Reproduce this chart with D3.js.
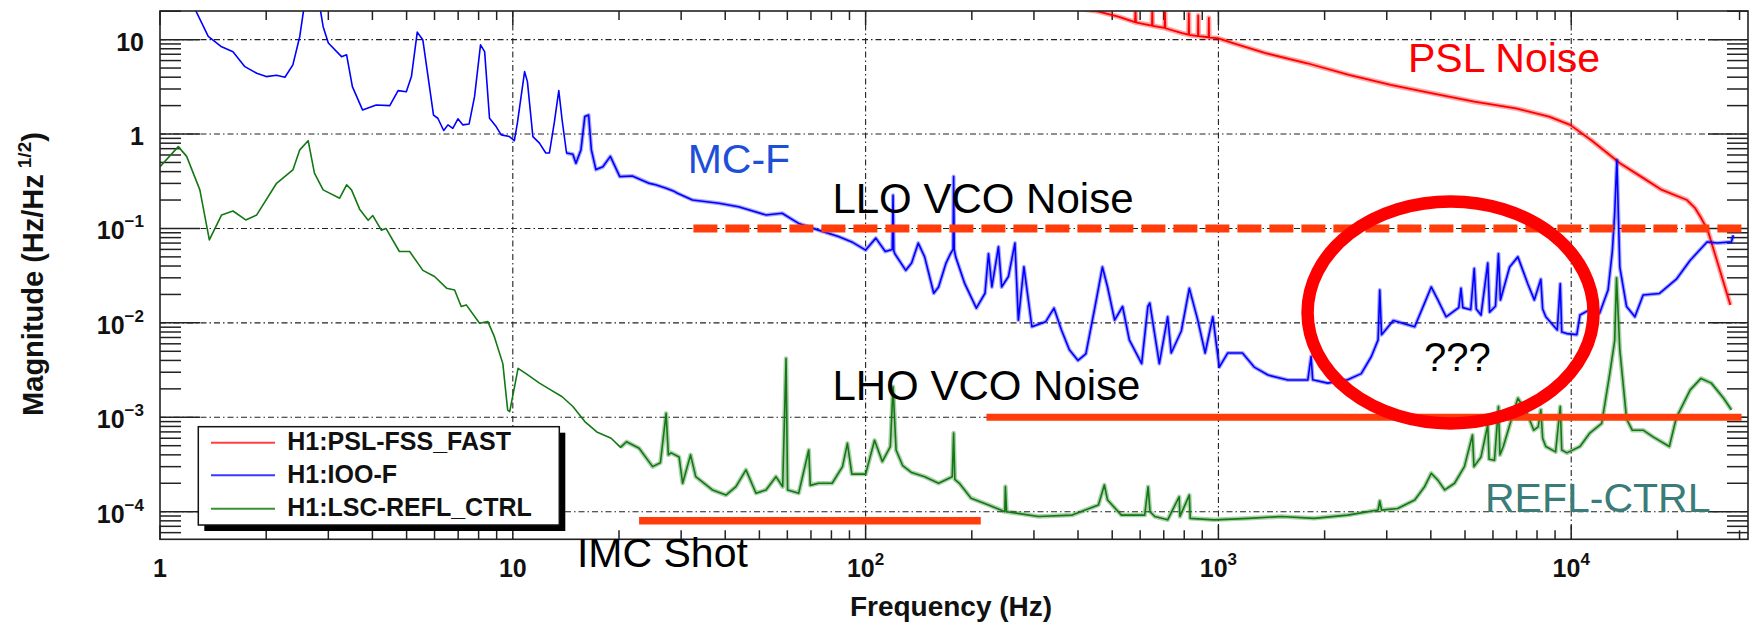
<!DOCTYPE html>
<html><head><meta charset="utf-8">
<script src="https://cdn.jsdelivr.net/npm/d3@7"></script>
<style>
body{margin:0;background:#fff}
svg{display:block}
text{font-family:"Liberation Sans",Arial,Helvetica,sans-serif}
</style>
</head><body>
<svg id="chart" width="1755" height="627"></svg>
<script>
// ---------- data ----------
const xTickValues = [1, 10, 100, 1000, 10000];
const xTickBase   = ["1", "10", "10", "10", "10"];
const xTickExp    = ["", "", "2", "3", "4"];
const yTickValues = [10, 1, 0.1, 0.01, 0.001, 0.0001];
const yTickBase   = ["10", "1", "10", "10", "10", "10"];
const yTickExp    = ["", "", "\u22121", "\u22122", "\u22123", "\u22124"];
const legendLabels = ["H1:PSL-FSS_FAST", "H1:IOO-F", "H1:LSC-REFL_CTRL"];

// H1:PSL-FSS_FAST  [Hz, Hz/rtHz]
const pslFast = [[300,32],[380,22],[458,19.8],[520,17.5],[580,15.3],[582,20],[584,15.2],[601,14.9],[648,14.1],[649.5,20.5],[651,14.0],[704,13.3],[705.5,19.5],[707,13.2],[789,11.7],[823,11.3],[824.5,19],[826,11.2],[875,10.9],[876.5,18],[878,10.9],[938,10.6],[939.5,17],[941,10.5],[995,10.35],[1100,9.2],[1360,7.18],[1785,5.62],[2344,4.23],[3078,3.31],[4042,2.70],[5309,2.20],[6970,1.87],[8655,1.53],[9930,1.25],[11380,0.865],[13750,0.49],[15770,0.354],[18070,0.256],[21290,0.20],[22450,0.164],[23230,0.133],[24370,0.096],[28260,0.0155]];

// H1:IOO-F
const iooF = [[1.1,35],[1.265,20],[1.37,10.8],[1.495,8.4],[1.61,7.46],[1.74,5.17],[1.88,4.4],[2.0,4.06],[2.14,4.2],[2.26,4.0],[2.38,5.4],[2.49,10.8],[2.56,22],[2.65,45],[2.75,40],[2.84,22],[2.90,13.7],[3.0,9.2],[3.27,6.6],[3.38,6.9],[3.51,3.18],[3.75,1.80],[4.1,2.03],[4.48,2.0],[4.73,2.88],[4.99,2.81],[5.16,4.06],[5.36,12.0],[5.56,9.9],[5.96,1.59],[6.13,1.47],[6.37,1.09],[6.55,1.25],[6.76,1.15],[6.99,1.45],[7.22,1.25],[7.52,1.28],[7.79,2.49],[8.1,8.8],[8.32,7.46],[8.59,1.47],[8.97,1.2],[9.27,0.98],[9.78,0.94],[10.1,0.85],[10.3,1.3],[10.8,4.58],[11.0,3.59],[11.4,0.94],[11.9,0.80],[12.4,0.63],[12.7,0.63],[13.1,1.3],[13.5,2.88],[13.8,1.4],[14.2,0.63],[14.8,0.61],[15.1,0.49],[15.6,0.68],[16.0,1.53],[16.4,1.59],[16.7,0.68],[17.2,0.42],[18.0,0.45],[18.9,0.58],[20.1,0.354],[21.8,0.36],[24.4,0.30],[25.4,0.29],[27.2,0.267],[28.5,0.25],[29.3,0.236],[32.3,0.20],[38.4,0.185],[43.6,0.17],[52.2,0.139],[58,0.145],[64.6,0.113],[73.5,0.096],[83.8,0.082],[91.4,0.072],[100,0.059],[106.9,0.079],[113.7,0.057],[119,0.06],[119.6,0.225],[120.2,0.058],[121,0.054],[130,0.036],[135,0.043],[141,0.070],[147,0.050],[156,0.0206],[161,0.024],[169,0.043],[174,0.054],[177,0.06],[177.6,0.354],[178.3,0.06],[180,0.05],[191,0.026],[206,0.0143],[218,0.0206],[223,0.054],[228,0.024],[238,0.064],[243,0.024],[254,0.031],[265,0.070],[271,0.0107],[281,0.0393],[296,0.0091],[324,0.0103],[342,0.0143],[359,0.0084],[378,0.0052],[400,0.0040],[421,0.0047],[447,0.0149],[469,0.039],[485,0.024],[508,0.0107],[535,0.0149],[559,0.0066],[606,0.0037],[631,0.0149],[639,0.0162],[680,0.0037],[718,0.0116],[735,0.0048],[785,0.0082],[827,0.0232],[874,0.0107],[917,0.0048],[964,0.0116],[1006,0.0034],[1063,0.0048],[1170,0.0048],[1263,0.0034],[1382,0.0028],[1573,0.00248],[1792,0.00248],[1831,0.0044],[1850,0.0025],[2040,0.0023],[2325,0.0025],[2540,0.0029],[2713,0.0044],[2835,0.0066],[2866,0.0223],[2900,0.0075],[2960,0.0082],[3130,0.0106],[3600,0.0091],[3840,0.0162],[4010,0.024],[4188,0.0175],[4420,0.0116],[4800,0.0145],[4870,0.0232],[4930,0.0145],[5190,0.0138],[5310,0.0376],[5380,0.014],[5550,0.0121],[5800,0.043],[5870,0.013],[6100,0.015],[6220,0.054],[6300,0.0175],[6690,0.039],[7060,0.050],[7530,0.026],[7860,0.0175],[8200,0.029],[8300,0.014],[8470,0.0116],[9130,0.0084],[9310,0.026],[9400,0.008],[9720,0.0077],[10370,0.0075],[10590,0.0121],[11290,0.0138],[12040,0.0127],[12720,0.0223],[13080,0.058],[13280,0.145],[13470,0.53],[13730,0.039],[14350,0.0149],[15150,0.0116],[15990,0.0197],[17790,0.0205],[19860,0.029],[21740,0.046],[24270,0.072],[25950,0.07],[28440,0.072],[28800,0.085]];

// H1:LSC-REFL_CTRL
const reflCtrl = [[1.0,0.452],[1.127,0.736],[1.19,0.58],[1.297,0.256],[1.38,0.0756],[1.495,0.139],[1.61,0.153],[1.75,0.123],[1.88,0.139],[2.14,0.301],[2.38,0.417],[2.49,0.68],[2.63,0.85],[2.74,0.385],[2.9,0.256],[3.23,0.209],[3.38,0.29],[3.49,0.256],[3.68,0.16],[3.89,0.122],[4.01,0.137],[4.24,0.096],[4.37,0.1],[4.77,0.057],[5.1,0.057],[5.56,0.036],[6.0,0.031],[6.49,0.0233],[6.84,0.0223],[7.14,0.0149],[7.38,0.0155],[8.05,0.0099],[8.5,0.0103],[8.87,0.0071],[9.37,0.0037],[9.67,0.00119],[9.8,0.00115],[10.35,0.0033],[10.9,0.0029],[11.9,0.0023],[12.8,0.00195],[13.8,0.00165],[14.8,0.0013],[16,0.0009],[17.3,0.0007],[19,0.0006],[20.2,0.00048],[21,0.00055],[22.8,0.00047],[24.9,0.0003],[26.2,0.00033],[27.2,0.0011],[27.6,0.0004],[28.1,0.00042],[29.6,0.00038],[30.3,0.0002],[31.9,0.0004],[33,0.000235],[36.8,0.00017],[40.2,0.00015],[42.9,0.000184],[45.8,0.000277],[48.9,0.000157],[52.2,0.00017],[55.7,0.000235],[58.2,0.000184],[59.5,0.0042],[60.1,0.00017],[64.6,0.000157],[69,0.00045],[69.7,0.00019],[73.5,0.0002],[80.4,0.0002],[86,0.0003],[88.8,0.00053],[91.4,0.00025],[100,0.00025],[106,0.00057],[111.5,0.00034],[117.5,0.00049],[119.6,0.0021],[122,0.00045],[127.4,0.000307],[135,0.00026],[147,0.000235],[161,0.0002],[176,0.000235],[177.6,0.00068],[179,0.00022],[184.4,0.0002],[199,0.000139],[223,0.000118],[248,0.0001],[249,0.000185],[251,0.0001],[309,0.000089],[385,0.000092],[457,0.000118],[475,0.000192],[485,0.000133],[531,0.000092],[618,0.000092],[632,0.000184],[640,0.0001],[660,0.000089],[718,0.000082],[774,0.000144],[778,0.000089],[827,0.00015],[832,0.000085],[972,0.000082],[1220,0.000085],[1510,0.000089],[1867,0.000085],[2325,0.000092],[2835,0.000104],[2866,0.00013],[2900,0.000104],[3220,0.000108],[3600,0.000133],[3840,0.000184],[4010,0.000255],[4188,0.000216],[4380,0.00017],[4670,0.0002],[4980,0.0003],[5250,0.00065],[5300,0.0003],[5550,0.00038],[5800,0.00083],[5850,0.00036],[6060,0.00035],[6220,0.0013],[6280,0.0004],[6420,0.00049],[6790,0.00099],[7060,0.00159],[7500,0.0011],[7830,0.00073],[8060,0.00079],[8200,0.0012],[8300,0.0006],[8470,0.00049],[9030,0.00043],[9310,0.0013],[9400,0.00045],[9720,0.00042],[10590,0.00049],[11290,0.00068],[12200,0.00086],[12860,0.0029],[13280,0.0065],[13440,0.03],[13730,0.0052],[14350,0.00096],[14890,0.00073],[15990,0.00073],[17060,0.00062],[18970,0.00049],[19860,0.00099],[21740,0.00195],[23320,0.00258],[24950,0.0023],[27000,0.0016],[28440,0.0012]];

// annotations (data units; text anchor = start of baseline)
const lloLevel = 0.1,   lloRange = [32.5, 30400];
const lhoLevel = 0.001, lhoRange = [220, 30400];
const imcLevel = 8e-5,  imcRange = [22.8, 212];
const questionCenter = [4550, 0.0129];
const annotations = [
  {text:"PSL Noise",     f:3446, v:4.57,    color:"#ff0000", size:41},
  {text:"MC-F",          f:31.3, v:0.39,    color:"#1d4fd8", size:41},
  {text:"LLO VCO Noise", f:80.5, v:0.1468,  color:"#000",    size:42},
  {text:"LHO VCO Noise", f:80.5, v:1.524e-3,color:"#000",    size:42},
  {text:"IMC Shot",      f:15.2, v:2.6e-5,  color:"#000",    size:41},
  {text:"???",           f:3826, v:3.11e-3, color:"#000",    size:40},
  {text:"REFL-CTRL",     f:5697, v:1.0e-4,  color:"#3b7b78", size:41}
];

// ---------- layout ----------
const L = 160, R = 1748, T = 11, B = 539.3;
const svg = d3.select("#chart");
const x = d3.scaleLog().domain([1, 31700]).range([L, R]);
const y = d3.scaleLog().domain([5.1e-5, 20.1]).range([B, T]);

const legendColors = ["#ff4040", "#3838ff", "#3a8f3a"];

svg.append("defs").append("clipPath").attr("id","plotclip")
  .append("rect").attr("x",L).attr("y",T).attr("width",R-L).attr("height",B-T);

// ---------- grid ----------
const grid = svg.append("g").attr("stroke","#222").attr("stroke-width",1.1)
  .attr("stroke-dasharray","6,3,1.5,3");
xTickValues.filter(v => v > 1).forEach(v => {
  grid.append("line").attr("x1",x(v)).attr("x2",x(v)).attr("y1",T).attr("y2",B);
});
yTickValues.forEach(v => {
  grid.append("line").attr("x1",L).attr("x2",R).attr("y1",y(v)).attr("y2",y(v));
});

// ---------- ticks ----------
const xMinor = [], yMinor = [];
for (let d = 0; d <= 4; d++) for (let k = 2; k <= 9; k++) {
  const v = k * Math.pow(10, d); if (v < 31700) xMinor.push(v);
}
for (let d = -5; d <= 1; d++) for (let k = 2; k <= 9; k++) {
  const v = k * Math.pow(10, d); if (v > 5.1e-5 && v < 20.1) yMinor.push(v);
}
const tk = svg.append("g").attr("stroke","#222").attr("stroke-width",1.5);
function xTick(v, len) {
  tk.append("line").attr("x1",x(v)).attr("x2",x(v)).attr("y1",B).attr("y2",B-len);
  tk.append("line").attr("x1",x(v)).attr("x2",x(v)).attr("y1",T).attr("y2",T+len);
}
function yTick(v, len) {
  tk.append("line").attr("x1",L).attr("x2",L+len).attr("y1",y(v)).attr("y2",y(v));
  tk.append("line").attr("x1",R).attr("x2",R-len).attr("y1",y(v)).attr("y2",y(v));
}
xMinor.forEach(v => xTick(v, 9));
xTickValues.forEach(v => xTick(v, 14));
yMinor.forEach(v => yTick(v, 21));
yTickValues.forEach(v => yTick(v, 40));

// ---------- series ----------
const line = d3.line().x(d => x(d[0])).y(d => y(d[1]));
const plot = svg.append("g").attr("clip-path","url(#plotclip)");
const series = [
  {data: pslFast,  color:"#ff0000", w:1.8, halo:5,   haloFrom:300},
  {data: iooF,     color:"#0000ff", w:1.6, halo:4,   haloFrom:14},
  {data: reflCtrl, color:"#137813", w:1.6, halo:4.5, haloFrom:20}
];
series.forEach(s => {
  plot.append("path").datum(s.data.filter(d => d[0] >= s.haloFrom)).attr("d", line)
    .attr("fill","none").attr("stroke", s.color).attr("stroke-opacity",0.35)
    .attr("stroke-width", s.halo).attr("stroke-linejoin","round");
  plot.append("path").datum(s.data).attr("d", line).attr("fill","none")
    .attr("stroke", s.color).attr("stroke-width", s.w).attr("stroke-linejoin","round");
});

// ---------- frame ----------
svg.append("rect").attr("x",L).attr("y",T).attr("width",R-L).attr("height",B-T)
  .attr("fill","none").attr("stroke","#222").attr("stroke-width",1.6);

// ---------- tick labels ----------
const xl = svg.append("g").attr("font-weight","bold").attr("font-size",25).attr("fill","#111");
xTickValues.forEach((v, i) => {
  const t = xl.append("text").attr("x", x(v)).attr("y", 577).attr("text-anchor","middle");
  t.append("tspan").text(xTickBase[i]);
  if (xTickExp[i]) t.append("tspan").attr("dy",-12).attr("font-size",17).text(xTickExp[i]);
});
yTickValues.forEach((v, i) => {
  const t = xl.append("text").attr("x", 144).attr("y", y(v) + 11).attr("text-anchor","end");
  t.append("tspan").text(yTickBase[i]);
  if (yTickExp[i]) t.append("tspan").attr("dy",-12).attr("font-size",17).text(yTickExp[i]);
});

// ---------- axis titles ----------
svg.append("text").attr("x", 951).attr("y", 616).attr("text-anchor","middle")
  .attr("font-weight","bold").attr("font-size",28).attr("fill","#111").text("Frequency (Hz)");
const yt = svg.append("text").attr("transform","translate(43,274) rotate(-90)")
  .attr("text-anchor","middle").attr("font-weight","bold").attr("font-size",29).attr("fill","#111");
yt.append("tspan").text("Magnitude (Hz/Hz");
yt.append("tspan").attr("dx",6).attr("dy",-12).attr("font-size",19).text("1/2");
yt.append("tspan").attr("dy",12).text(")");

// ---------- annotation shapes ----------
svg.append("line").attr("x1",x(lloRange[0])).attr("x2",x(lloRange[1]))
  .attr("y1",y(lloLevel)).attr("y2",y(lloLevel))
  .attr("stroke","#ff3c0a").attr("stroke-width",8).attr("stroke-dasharray","24,8");
svg.append("line").attr("x1",x(lhoRange[0])).attr("x2",x(lhoRange[1]))
  .attr("y1",y(lhoLevel)).attr("y2",y(lhoLevel))
  .attr("stroke","#ff3c0a").attr("stroke-width",7);
svg.append("line").attr("x1",x(imcRange[0])).attr("x2",x(imcRange[1]))
  .attr("y1",y(imcLevel)).attr("y2",y(imcLevel))
  .attr("stroke","#ff3c0a").attr("stroke-width",7.5);
svg.append("ellipse").attr("cx",x(questionCenter[0])).attr("cy",y(questionCenter[1]))
  .attr("rx",143).attr("ry",111).attr("fill","none")
  .attr("stroke","#ff0000").attr("stroke-width",12.5);

// ---------- annotation text ----------
annotations.forEach(a => {
  svg.append("text").attr("x", x(a.f)).attr("y", y(a.v))
    .attr("font-size", a.size).attr("fill", a.color).text(a.text);
});

// ---------- legend ----------
const lg = svg.append("g");
lg.append("rect").attr("x",204.3).attr("y",432.7).attr("width",361).attr("height",98.3).attr("fill","#000");
lg.append("rect").attr("x",198.3).attr("y",426.7).attr("width",361).attr("height",98.3)
  .attr("fill","#fff").attr("stroke","#111").attr("stroke-width",1.5);
const legendY = [442.7, 475.3, 508.7];
legendLabels.forEach((lab, i) => {
  lg.append("line").attr("x1",211).attr("x2",275).attr("y1",legendY[i]).attr("y2",legendY[i])
    .attr("stroke", legendColors[i]).attr("stroke-width",2);
  lg.append("text").attr("x",287.3).attr("y",legendY[i] + 7.5)
    .attr("font-weight","bold").attr("font-size",25).attr("fill","#111").text(lab);
});
</script>
</body></html>
